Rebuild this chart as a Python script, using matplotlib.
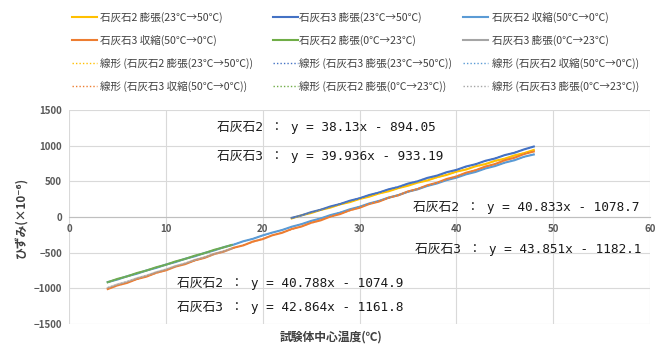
import numpy as np
import matplotlib
matplotlib.use('Agg')
import matplotlib.pyplot as plt
from matplotlib.lines import Line2D

plt.rcParams['font.family'] = ['Noto Sans CJK JP', 'DejaVu Sans']

# 系列名 (凡例の順番)
series_names = ['石灰石2 膨張(23℃→50℃)', '石灰石3 膨張(23℃→50℃)', '石灰石2 収縮(50℃→0℃)',
                '石灰石3 収縮(50℃→0℃)', '石灰石2 膨張(0℃→23℃)', '石灰石3 膨張(0℃→23℃)']
colors = ['#FFC000', '#4472C4', '#5B9BD5', '#ED7D31', '#70AD47', '#A5A5A5']

# 温度 (℃) とひずみ (×10^-6)
x_up = [23, 24, 25, 26, 27, 28, 29, 30, 31, 32, 33, 34, 35, 36, 37, 38, 39, 40, 41, 42, 43, 44, 45, 46, 47, 48]
y_ls2_up = [-20, 24, 55, 100, 132, 178, 208, 253, 285, 330, 360, 405, 438, 482, 512, 558, 590, 636, 665, 712,
            742, 788, 818, 864, 895, 940]
y_ls3_up = [-12, 22, 68, 102, 148, 182, 228, 262, 308, 342, 388, 420, 468, 500, 548, 580, 628, 660, 708, 740,
            788, 820, 868, 900, 948, 988]

x_down = [48, 47, 46, 45, 44, 43, 42, 41, 40, 39, 38, 37, 36, 35, 34, 33, 32, 31, 30, 29, 28, 27, 26, 25, 24,
          23, 22, 21, 20, 19, 18, 17, 16, 15, 14, 13, 12, 11, 10, 9, 8, 7, 6, 5, 4]
y_ls2_down = [876, 845, 795, 762, 714, 680, 632, 598, 551, 517, 470, 435, 388, 354, 306, 272, 225, 190, 143, 108,
              61, 27, -20, -55, -101, -136, -183, -218, -258, -306, -340, -388, -422, -469, -504, -551, -585,
              -632, -667, -714, -749, -796, -830, -877, -912]
y_ls3_down = [918, 884, 830, 796, 742, 708, 655, 621, 567, 533, 480, 445, 392, 358, 304, 270, 216, 182, 129, 95,
              41, 7, -47, -81, -134, -168, -222, -256, -310, -344, -398, -431, -485, -519, -573, -607, -661,
              -695, -748, -782, -836, -870, -924, -958, -1010]

x_low = [4, 5, 6, 7, 8, 9, 10, 11, 12, 13, 14, 15, 16, 16.8]
y_ls2_low = [-915, -868, -833, -786, -751, -705, -670, -623, -588, -542, -507, -460, -425, -392]
y_ls3_low = [-994, -944, -908, -858, -822, -773, -736, -687, -651, -601, -565, -516, -479, -444]

xs = [x_up, x_up, x_down, x_down, x_low, x_low]
ys = [y_ls2_up, y_ls3_up, y_ls2_down, y_ls3_down, y_ls2_low, y_ls3_low]

# 近似直線の係数
slopes = [38.13, 39.936, 40.833, 43.851, 40.788, 42.864]
intercepts = [-894.05, -933.19, -1078.7, -1182.1, -1074.9, -1161.8]

eq_texts = ['石灰石2 ： y = 38.13x - 894.05', '石灰石3 ： y = 39.936x - 933.19',
            '石灰石2 ： y = 40.833x - 1078.7', '石灰石3 ： y = 43.851x - 1182.1',
            '石灰石2 ： y = 40.788x - 1074.9', '石灰石3 ： y = 42.864x - 1161.8']

W, H = 664, 347
fig = plt.figure(figsize=(W / 100, H / 100), dpi=100)
ax = fig.add_axes([69 / W, 1 - 324 / H, (650 - 69) / W, (324 - 110) / H])

for i in range(6):
    ax.plot(xs[i], ys[i], color=colors[i], lw=1.5, zorder=3, alpha=0.6 if i == 5 else 1)
for i in range(6):
    xr = np.array([min(xs[i]), max(xs[i])])
    ax.plot(xr, slopes[i] * xr + intercepts[i], color=colors[i], lw=1, linestyle=(0, (1, 1.5)), zorder=4)

ax.set_xlim(0, 60)
ax.set_ylim(-1500, 1500)
ax.set_xticks(range(0, 61, 10))
ax.set_yticks(range(-1500, 1501, 500))
ax.grid(True, color='#d9d9d9', lw=0.8)
ax.set_axisbelow(True)
for s in ['top', 'right', 'left']:
    ax.spines[s].set_visible(False)
ax.spines['bottom'].set_position(('data', 0))
ax.spines['bottom'].set_color('#bfbfbf')
ax.tick_params(length=0, labelsize=7, labelcolor='#595959', pad=5)
for lab in ax.get_xticklabels() + ax.get_yticklabels():
    lab.set_fontweight('bold')

# 近似式
eq_pos = [(217, 127), (217, 157), (413, 208), (415, 250), (177, 284), (177, 307)]
for t, (px, py) in zip(eq_texts, eq_pos):
    fig.text(px / W, 1 - py / H, t, fontsize=9.2, va='center', ha='left', color='#1a1a1a',
             family=['DejaVu Sans Mono', 'Noto Sans CJK JP'])

fig.text(22 / W, 1 - 217 / H, 'ひずみ(×10⁻⁶)', rotation=90, ha='center', va='center',
         fontsize=8.5, fontweight='bold', color='#404040')
fig.text(331 / W, 1 - 337 / H, '試験体中心温度(℃)', ha='center', va='center',
         fontsize=8.5, fontweight='bold', color='#404040')

# 凡例 (手動配置)
legend_labels = series_names + ['線形 (' + n + ')' for n in series_names]
col_handle = [72, 273, 463]
col_text = [100, 299, 492]
row_y = [17, 40, 63, 86]
for k, lab in enumerate(legend_labels):
    r, c = divmod(k, 3)
    i = k % 6
    ls = '-' if k < 6 else (0, (1, 1.5))
    lw = 1.5 if k < 6 else 1
    yy = 1 - row_y[r] / H
    fig.add_artist(Line2D([col_handle[c] / W, (col_handle[c] + 25) / W], [yy, yy],
                          color=colors[i], lw=lw, linestyle=ls, transform=fig.transFigure))
    fig.text(col_text[c] / W, yy, lab, fontsize=7.6, va='center', ha='left', color='#404040')

fig.savefig('out.png', dpi=100)
